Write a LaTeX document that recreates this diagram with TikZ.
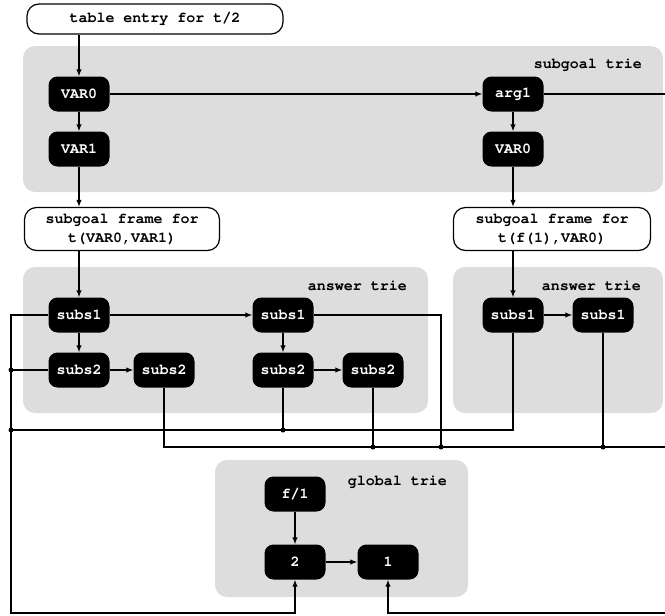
\documentclass[tikz,border=0pt]{standalone}
\usepackage[T1]{fontenc}
\usepackage{courier}
\usepackage{tikz}
\usetikzlibrary{arrows.meta,positioning}
\definecolor{triegray}{HTML}{DDDDDD}
\tikzset{
  trienode/.style={fill=black, text=white, rounded corners=9pt, minimum width=61pt, minimum height=35pt, inner sep=0pt, font=\fontsize{15}{17}\selectfont\ttfamily\bfseries},
  framebox/.style={draw, fill=white, line width=1.2pt, rounded corners=12pt, inner sep=0pt, align=center, font=\fontsize{15}{19}\selectfont\ttfamily\bfseries},
  triebg/.style={fill=triegray, rounded corners=12pt},
  trielabel/.style={anchor=east, inner sep=0pt, font=\fontsize{15}{17}\selectfont\ttfamily\bfseries},
  wire/.style={line width=1.2pt},
  junction/.style={circle, fill=black, inner sep=0pt, minimum size=5pt}
}
\begin{document}
\begin{tikzpicture}[x=1pt, y=-1pt, >={Latex[length=7pt,width=5.5pt]}]
\useasboundingbox (0,0) rectangle (665,616);
\fill[triebg] (23,46) rectangle (663,192);
\fill[triebg] (23,267) rectangle (428,413);
\fill[triebg] (453,267) rectangle (663,413);
\fill[triebg] (215,460) rectangle (468,597);
\node[trielabel] (lsg) at (642,65) {subgoal trie};
\node[trielabel] (lans) at (407,286) {answer trie};
\node[trielabel] (rans) at (641,286) {answer trie};
\node[trielabel] (lgl) at (447,482) {global trie};

\node[framebox, minimum width=256pt, minimum height=30pt] (table) at (155,19) {table entry for t/2};
\node[trienode] (var0) at (79,94) {VAR0};
\node[trienode] (var1) at (79,149) {VAR1};
\node[trienode] (arg1) at (513,94) {arg1};
\node[trienode] (var0r) at (513,149) {VAR0};
\node[framebox, minimum width=195pt, minimum height=43pt] (lframe) at (122,229) {subgoal frame for\\t(VAR0,VAR1)};
\node[framebox, minimum width=197pt, minimum height=43pt] (rframe) at (552,229) {subgoal frame for\\t(f(1),VAR0)};

\node[trienode] (subs1a) at (79,315) {subs1};
\node[trienode] (subs2a) at (79,370) {subs2};
\node[trienode] (subs2b) at (164,370) {subs2};
\node[trienode] (subs1c) at (283,315) {subs1};
\node[trienode] (subs2d) at (283,370) {subs2};
\node[trienode] (subs2e) at (373,370) {subs2};
\node[trienode] (subs1f) at (513,315) {subs1};
\node[trienode] (subs1g) at (603,315) {subs1};

\node[trienode] (f1) at (295,494) {f/1};
\node[trienode] (two) at (295,562) {2};
\node[trienode] (one) at (388,562) {1};

\coordinate (lbot) at (11,613);
\coordinate (rbot) at (665,613);
\coordinate (midrail) at (11,430);
\coordinate (lowrail) at (665,447);
\coordinate (drop) at (441,447);

\draw[wire, ->] (table.south -| var0) -- (var0);
\draw[wire, ->] (var0) -- (var1);
\draw[wire, ->] (var0) -- (arg1);
\draw[wire] (arg1.east) -- (arg1 -| rbot);
\draw[wire, ->] (arg1) -- (var0r);
\draw[wire, ->] (var1) -- (var1 |- lframe.north);
\draw[wire, ->] (var0r) -- (var0r |- rframe.north);
\draw[wire, ->] (lframe.south -| subs1a) -- (subs1a);
\draw[wire, ->] (rframe.south -| subs1f) -- (subs1f);

\draw[wire, ->] (subs1a) -- (subs2a);
\draw[wire, ->] (subs2a) -- (subs2b);
\draw[wire, ->] (subs1a) -- (subs1c);
\draw[wire, ->] (subs1c) -- (subs2d);
\draw[wire, ->] (subs2d) -- (subs2e);
\draw[wire, ->] (subs1f) -- (subs1g);
\draw[wire, ->] (f1) -- (two);
\draw[wire, ->] (two) -- (one);

\draw[wire, ->] (subs1a.west) -| (lbot) -| (two.south);
\draw[wire] (subs2a.west) -- (subs2a -| lbot) node[junction] {};
\draw[wire] (midrail) node[junction] {} -| (subs1f.south);
\draw[wire] (subs2d.south) -- (subs2d |- midrail) node[junction] {};
\draw[wire] (subs2b.south) |- (lowrail);
\draw[wire] (subs2e.south) -- (subs2e |- lowrail) node[junction] {};
\draw[wire] (subs1c.east) -| (drop) node[junction] {};
\draw[wire] (subs1g.south) -- (subs1g |- lowrail) node[junction] {};
\draw[wire, ->] (rbot) -| (one.south);
\end{tikzpicture}
\end{document}
